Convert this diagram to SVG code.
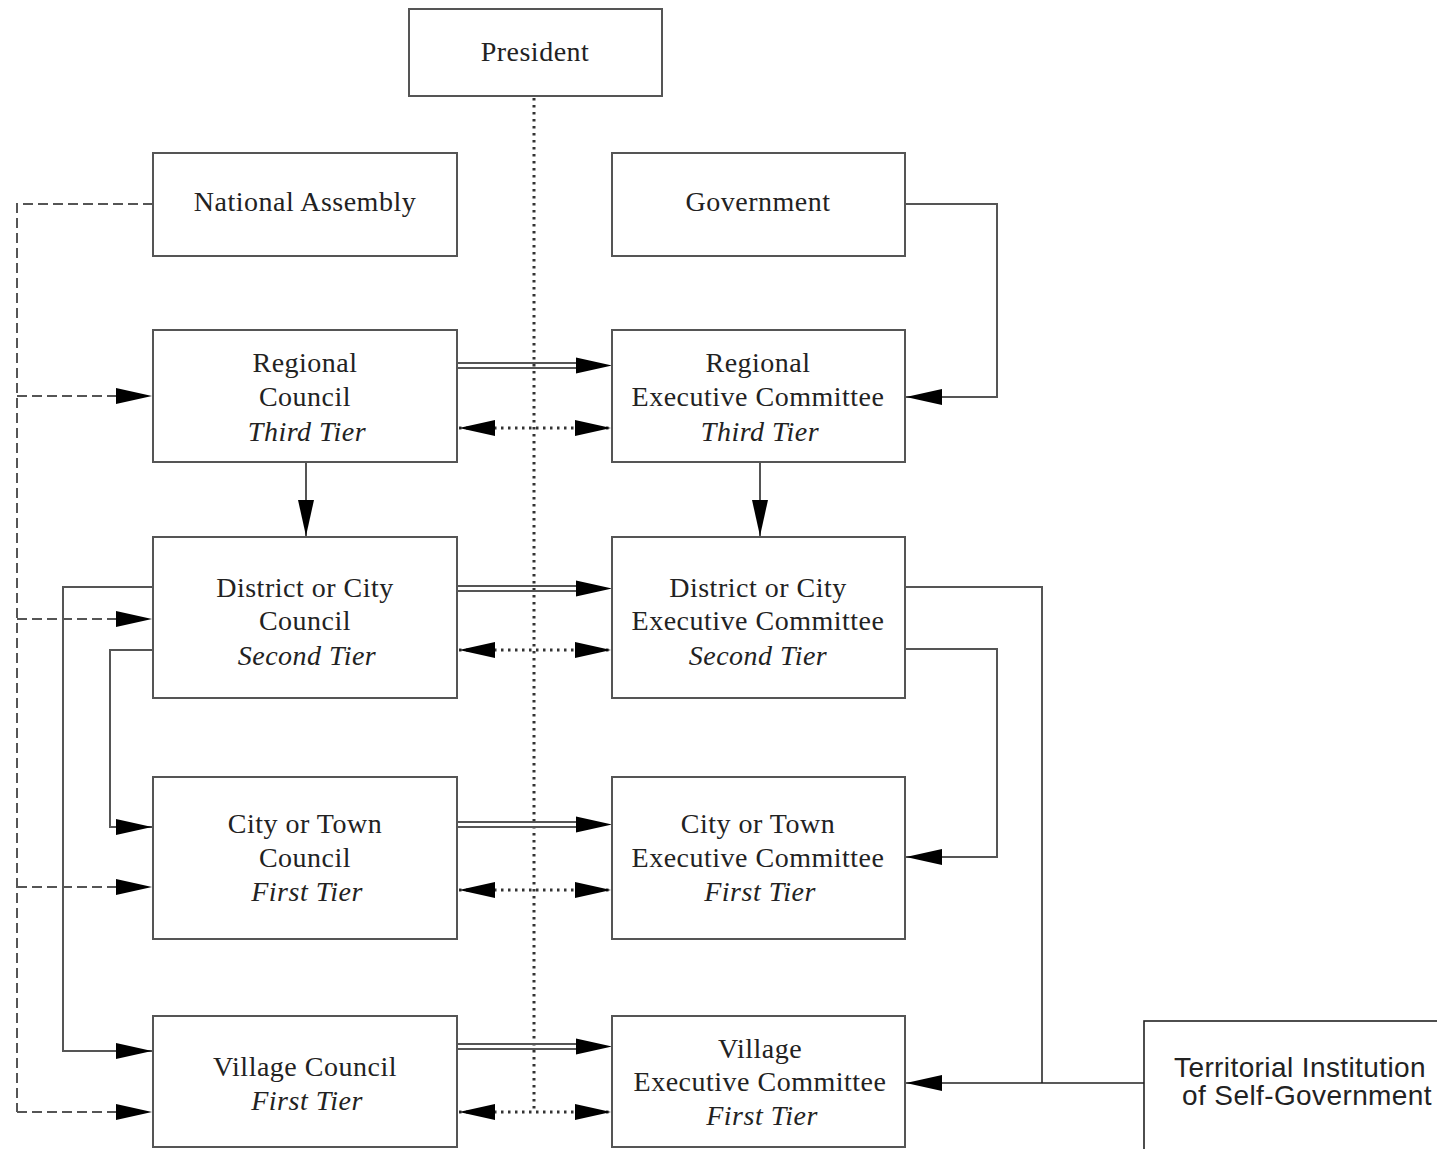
<svg xmlns="http://www.w3.org/2000/svg" width="1437" height="1149" viewBox="0 0 1437 1149">
<style>
.box{fill:#fff;stroke:#555;stroke-width:2}
.t{font-family:"Liberation Serif","Times New Roman",serif;font-size:28px;fill:#222;text-anchor:middle;letter-spacing:0.5px}
.i{font-style:italic}
.s{font-family:"Liberation Sans",Arial,sans-serif;font-size:28px;fill:#222;text-anchor:middle;letter-spacing:0.4px}
.ln{fill:none;stroke:#555;stroke-width:2}
.sl{fill:none;stroke:#222;stroke-width:1.6}
.dash{fill:none;stroke:#555;stroke-width:2;stroke-dasharray:10 5}
.dot{fill:none;stroke:#333;stroke-width:3;stroke-dasharray:2.5 4.5}
</style>
<defs>
<marker id="ah" markerUnits="userSpaceOnUse" markerWidth="38" markerHeight="18" refX="36" refY="8" orient="auto-start-reverse" viewBox="0 0 38 16">
<path d="M0,0 L36,8 L0,16 z" fill="#000"/>
</marker>
</defs>
<rect width="1437" height="1149" fill="#fff"/>
<g id="connectors">
<line class="dot" x1="534" y1="98" x2="534" y2="1110"/>
<g class="ln">
<line x1="457" y1="363" x2="580" y2="363"/><line x1="457" y1="368" x2="580" y2="368"/>
<line x1="457" y1="586" x2="580" y2="586"/><line x1="457" y1="591" x2="580" y2="591"/>
<line x1="457" y1="822" x2="580" y2="822"/><line x1="457" y1="827" x2="580" y2="827"/>
<line x1="457" y1="1044" x2="580" y2="1044"/><line x1="457" y1="1049" x2="580" y2="1049"/>
</g>
<line x1="575" y1="365.5" x2="612" y2="365.5" stroke="none" marker-end="url(#ah)"/>
<line x1="575" y1="588.5" x2="612" y2="588.5" stroke="none" marker-end="url(#ah)"/>
<line x1="575" y1="824.5" x2="612" y2="824.5" stroke="none" marker-end="url(#ah)"/>
<line x1="575" y1="1046.5" x2="612" y2="1046.5" stroke="none" marker-end="url(#ah)"/>
<line class="dot" x1="459" y1="428" x2="611" y2="428" marker-start="url(#ah)" marker-end="url(#ah)"/>
<line class="dot" x1="459" y1="650" x2="611" y2="650" marker-start="url(#ah)" marker-end="url(#ah)"/>
<line class="dot" x1="459" y1="890" x2="611" y2="890" marker-start="url(#ah)" marker-end="url(#ah)"/>
<line class="dot" x1="459" y1="1112" x2="611" y2="1112" marker-start="url(#ah)" marker-end="url(#ah)"/>
<polyline class="dash" points="153,204 17,204 17,1112"/>
<line class="dash" x1="17" y1="396" x2="152" y2="396" marker-end="url(#ah)"/>
<line class="dash" x1="17" y1="619" x2="152" y2="619" marker-end="url(#ah)"/>
<line class="dash" x1="17" y1="887" x2="152" y2="887" marker-end="url(#ah)"/>
<line class="dash" x1="17" y1="1112" x2="152" y2="1112" marker-end="url(#ah)"/>
<polyline class="ln" points="153,587 63,587 63,1051 152,1051" marker-end="url(#ah)"/>
<polyline class="ln" points="153,650 110,650 110,827 152,827" marker-end="url(#ah)"/>
<line class="ln" x1="306" y1="462" x2="306" y2="536" marker-end="url(#ah)"/>
<line class="ln" x1="760" y1="462" x2="760" y2="536" marker-end="url(#ah)"/>
<polyline class="ln" points="905,204 997,204 997,397 906,397" marker-end="url(#ah)"/>
<polyline class="ln" points="905,649 997,649 997,857 906,857" marker-end="url(#ah)"/>
<polyline class="ln" points="905,587 1042,587 1042,1083"/>
<line class="sl" x1="1144" y1="1083" x2="906" y2="1083" marker-end="url(#ah)"/>
</g>
<g id="president"><rect class="box" x="409" y="9" width="253" height="87"/><text class="t" x="535" y="61">President</text></g>
<g id="national-assembly"><rect class="box" x="153" y="153" width="304" height="103"/><text class="t" x="305" y="211">National Assembly</text></g>
<g id="government"><rect class="box" x="612" y="153" width="293" height="103"/><text class="t" x="758" y="211">Government</text></g>
<g id="regional-council"><rect class="box" x="153" y="330" width="304" height="132"/><text class="t" x="305" y="372">Regional</text><text class="t" x="305" y="406">Council</text><text class="t i" x="307" y="441">Third Tier</text></g>
<g id="regional-exec"><rect class="box" x="612" y="330" width="293" height="132"/><text class="t" x="758" y="372">Regional</text><text class="t" x="758" y="406">Executive Committee</text><text class="t i" x="760" y="441">Third Tier</text></g>
<g id="district-council"><rect class="box" x="153" y="537" width="304" height="161"/><text class="t" x="305" y="597">District or City</text><text class="t" x="305" y="630">Council</text><text class="t i" x="307" y="665">Second Tier</text></g>
<g id="district-exec"><rect class="box" x="612" y="537" width="293" height="161"/><text class="t" x="758" y="597">District or City</text><text class="t" x="758" y="630">Executive Committee</text><text class="t i" x="758" y="665">Second Tier</text></g>
<g id="city-council"><rect class="box" x="153" y="777" width="304" height="162"/><text class="t" x="305" y="833">City or Town</text><text class="t" x="305" y="867">Council</text><text class="t i" x="307" y="901">First Tier</text></g>
<g id="city-exec"><rect class="box" x="612" y="777" width="293" height="162"/><text class="t" x="758" y="833">City or Town</text><text class="t" x="758" y="867">Executive Committee</text><text class="t i" x="760" y="901">First Tier</text></g>
<g id="village-council"><rect class="box" x="153" y="1016" width="304" height="131"/><text class="t" x="305" y="1076">Village Council</text><text class="t i" x="307" y="1110">First Tier</text></g>
<g id="village-exec"><rect class="box" x="612" y="1016" width="293" height="131"/><text class="t" x="760" y="1058">Village</text><text class="t" x="760" y="1091">Executive Committee</text><text class="t i" x="762" y="1125">First Tier</text></g>
<g id="territorial"><rect class="box" x="1144" y="1021" width="300" height="140" style="stroke:#222;stroke-width:1.6"/><text class="s" x="1300" y="1077">Territorial Institution</text><text class="s" x="1307" y="1105">of Self-Government</text></g>
</svg>
